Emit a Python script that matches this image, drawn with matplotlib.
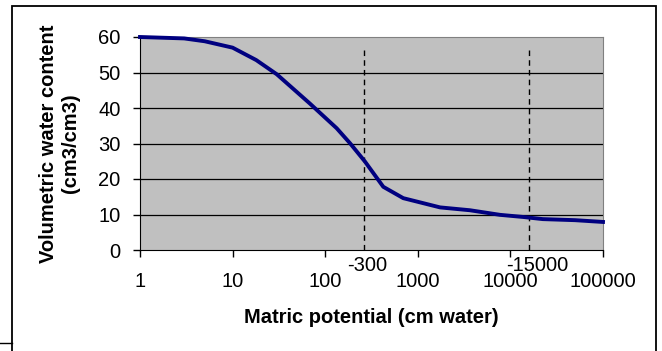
import matplotlib
matplotlib.use("Agg")
import matplotlib.pyplot as plt
from matplotlib.lines import Line2D
from matplotlib.patches import Rectangle

plt.rcParams["font.family"] = ["Liberation Sans", "DejaVu Sans"]

# ── Data ───────────────────────────────────────────────────────────────────
psi = [1, 3, 5, 10, 18, 30, 68, 133, 185, 269, 424, 697,
       1740, 3650, 7740, 13800, 22400, 50000, 100000]
theta = [60, 59.6, 58.8, 57, 53.5, 49.5, 41.3, 34.3, 30.1, 24.9, 17.8, 14.6,
         12.0, 11.2, 9.9, 9.3, 8.7, 8.4, 7.9]
mark_x = [265, 16000]          # where the dashed markers sit in the picture
mark_labels = ["-300", "-15000"]
xticks = [1, 10, 100, 1000, 10000, 100000]
xtick_labels = ["1", "10", "100", "1000", "10000", "100000"]
yticks = [0, 10, 20, 30, 40, 50, 60]

FS = 14.5

# ── Figure ─────────────────────────────────────────────────────────────────
fig = plt.figure(figsize=(6.62, 3.51), dpi=100)
fig.patch.set_facecolor("white")

# outer chart frame
fig.add_artist(Rectangle((12 / 662, -0.05), 644 / 662, 1.05 - 6 / 351,
                         transform=fig.transFigure, fill=False,
                         edgecolor="black", lw=1.3))
fig.add_artist(Line2D([0, 12 / 662], [1 - 343 / 351] * 2,
                      transform=fig.transFigure, color="black", lw=1))

ax = fig.add_axes([140 / 662, 1 - 250 / 351, 463 / 662, 213 / 351])
ax.set_facecolor("#c0c0c0")
ax.set_xscale("log")
ax.set_xlim(1, 100000)
ax.set_ylim(0, 60)

for y in yticks[1:-1]:
    ax.axhline(y, color="black", lw=0.9, zorder=1)

for m in mark_x:
    ax.plot([m, m], [0, 57], color="black", lw=1, ls=(0, (4, 3)), zorder=2)

ax.plot(psi, theta, color="#000080", lw=2.8, zorder=3, clip_on=False,
        solid_joinstyle="round")

for m, lab, dx in zip(mark_x, mark_labels, [2, 6]):
    ax.annotate(lab, xy=(m, 0), xycoords=("data", "axes fraction"),
                xytext=(dx, -11), textcoords="offset points",
                ha="center", va="center", fontsize=FS)

ax.set_xticks(xticks)
ax.set_xticklabels(xtick_labels)
ax.minorticks_off()
ax.set_yticks(yticks)
ax.tick_params(axis="x", direction="out", length=5, width=1, pad=11, labelsize=FS)
ax.tick_params(axis="y", direction="out", length=5, width=1, pad=9, labelsize=FS)

for s in ["top", "right"]:
    ax.spines[s].set_color("#808080")
for s in ["left", "bottom"]:
    ax.spines[s].set_color("black")

ax.set_xlabel("Matric potential (cm water)", fontsize=FS, fontweight="bold", labelpad=12)
ax.set_ylabel("Volumetric water content\n(cm3/cm3)", fontsize=FS,
              fontweight="bold", labelpad=13)

fig.savefig("out.png", dpi=100)
